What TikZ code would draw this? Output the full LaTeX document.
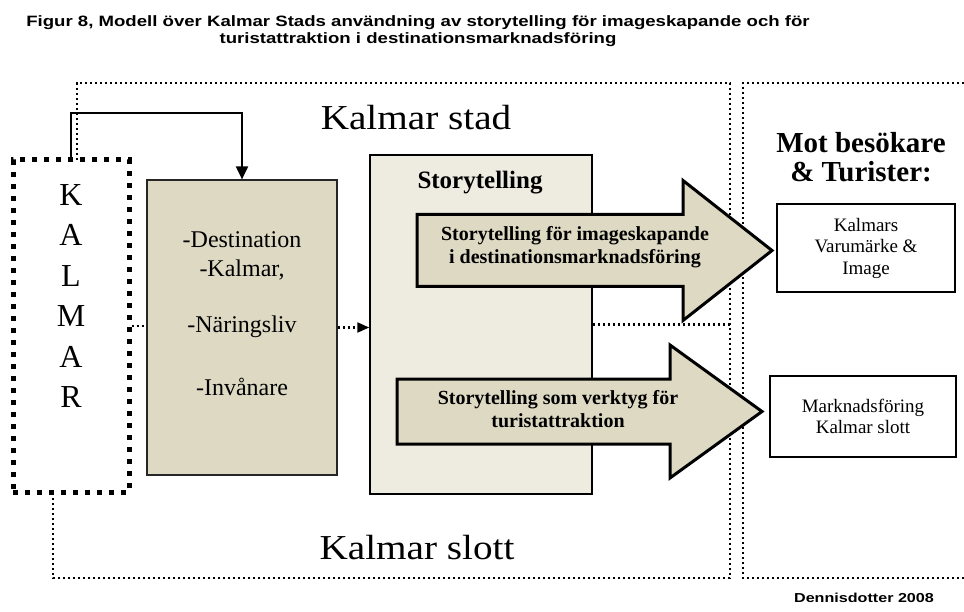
\documentclass[tikz,border=0pt]{standalone}
\usepackage{fontspec}
\setmainfont{Liberation Serif}
\newfontfamily\arialfont[FakeStretch=1.24]{Liberation Sans}
\newfontfamily\widefont[FakeStretch=1.12]{Liberation Serif}
\usetikzlibrary{arrows.meta}
\definecolor{tan}{HTML}{DDD9C3}
\definecolor{paper}{HTML}{EEECE1}
\tikzset{
  dotline/.style={line width=2.2pt, dash pattern=on 2.2pt off 2.8pt},
  kalmarbox/.style={draw, line width=5pt, dash pattern=on 5pt off 7pt, minimum width=116pt, minimum height=332pt},
  tanbox/.style={draw=black!85, fill=tan, line width=1.2pt},
  bigarrow/.style={draw, fill=tan, line width=3pt, line join=miter},
  arrowtext/.style={align=center, font=\bfseries\fontsize{20}{23}\selectfont},
  boxtext/.style={font=\fontsize{24}{28}\selectfont},
  areatext/.style={font=\widefont\fontsize{35}{40}\selectfont},
  outbox/.style={draw, line width=1.3pt, align=center, font=\fontsize{19}{21.5}\selectfont},
}
\begin{document}
\begin{tikzpicture}[x=1pt,y=-1pt]
        \useasboundingbox (0,0) rectangle (964,612);
        % title
        \node[align=center, font=\arialfont\bfseries\fontsize{15}{17.5}\selectfont] (title) at (418,31)
            {Figur 8, Modell över Kalmar Stads användning av storytelling för imageskapande och för\\
             turistattraktion i destinationsmarknadsföring};
        % areas
        \draw[dotline] (77,160) -- (77,83) -- (730,83) -- (730,578) -- (53,578) -- (53,492);
        \draw[dotline] (964,83) -- (743,83) -- (743,578) -- (964,578);
        \node[areatext] (stad) at (416,118) {Kalmar stad};
        \node[areatext] (slott) at (417,548) {Kalmar slott};
        % boxes
        \node[kalmarbox] (kalmar) at (71,326) {};
        \node[align=center, font=\fontsize{32}{40.4}\selectfont] (kalmartext) at (71,296) {K\\A\\L\\M\\A\\R};
        \node[tanbox, minimum width=190pt, minimum height=295pt] (destbox) at (242,327.5) {};
        \node[boxtext] (dest1) at (242,240) {-Destination};
        \node[boxtext] (dest2) at (242,270) {-Kalmar,};
        \node[boxtext] (dest3) at (242,327) {-Näringsliv};
        \node[boxtext] (dest4) at (242,387) {-Invånare};
        \node[draw, fill=paper, line width=1.5pt, minimum width=222pt, minimum height=339pt] (storybox) at (481,324.5) {};
        \node[font=\bfseries\fontsize{25}{28}\selectfont] (storytitle) at (480,183) {Storytelling};
        \draw[dotline] (storybox.east) -- (730,324.5);
        % connectors
        \coordinate (bend) at (242,113);
        \draw[line width=2pt, -{Triangle[length=13pt,width=12pt]}] (kalmar.north) |- (bend) -- (destbox.north);
        \draw[dotline] (kalmar.east) -- (kalmar.east -| destbox.west);
        \draw[dotline, -{Triangle[length=12pt,width=10pt]}] (destbox.east) -- (destbox.east -| storybox.west);
        % big arrows
        \draw[bigarrow] (417,214.5) -- (683,214.5) -- (683,180.5) -- (772,250.5) -- (683,320.5) -- (683,286.5) -- (417,286.5) -- cycle;
        \node[arrowtext] (image) at (575,247) {Storytelling för imageskapande\\i destinationsmarknadsföring};
        \draw[bigarrow] (397,379) -- (670,379) -- (670,345) -- (762,411.5) -- (670,478) -- (670,444) -- (397,444) -- cycle;
        \node[arrowtext] (turist) at (558,409) {Storytelling som verktyg för\\turistattraktion};
        % visitors
        \node[align=center, font=\bfseries\fontsize{29}{29}\selectfont] (visitors) at (861,157) {Mot besökare\\\& Turister:};
        \node[outbox, minimum width=178pt, minimum height=88pt] (brand) at (866,248) {Kalmars\\Varumärke \&\\Image};
        \node[outbox, minimum width=186pt, minimum height=81pt] (castle) at (863,416.5) {Marknadsföring\\Kalmar slott};
        \node[font=\arialfont\bfseries\fontsize{13}{15}\selectfont] (credit) at (864,598) {Dennisdotter 2008};
    \end{tikzpicture}
\end{document}
